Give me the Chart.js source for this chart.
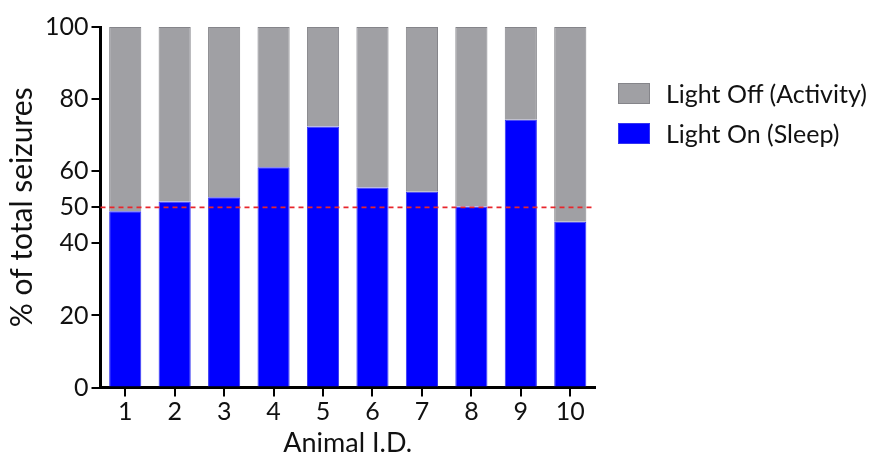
<!DOCTYPE html>
<html><head><meta charset="utf-8">
<script src="https://cdn.jsdelivr.net/npm/chart.js@4"></script>
<style>
html,body{margin:0;padding:0;background:#fff;}
#wrap{position:relative;width:872px;height:459px;}
#legend{position:absolute;left:618px;top:73px;font-family:Lato,sans-serif;font-size:25px;color:#111;}
.item{display:flex;align-items:center;height:40px;}
.sw{width:32px;height:21px;box-sizing:border-box;margin-right:16px;border:1px solid;}
</style></head><body>
<div id="wrap"><canvas id="c" width="872" height="459"></canvas><div id="legend"></div></div>
<script>
const categories = ['1','2','3','4','5','6','7','8','9','10'];
const lightOnSleep = [48.9, 51.6, 52.8, 61.1, 72.4, 55.5, 54.3, 50.2, 74.3, 46.0];
const lightOffActivity = [51.1, 48.4, 47.2, 38.9, 27.6, 44.5, 45.7, 49.8, 25.7, 54.0];
const yTicks = [0, 20, 40, 50, 60, 80, 100];
const refLine = 50;
const seriesLabels = ['Light On (Sleep)', 'Light Off (Activity)'];

const FONT = 'Lato, sans-serif';
const refPlugin = {
  id: 'refLine',
  afterDatasetsDraw(chart) {
    const {ctx, chartArea, scales} = chart;
    const y = scales.y.getPixelForValue(refLine);
    ctx.save();
    ctx.strokeStyle = '#e8262c';
    ctx.lineWidth = 1.8;
    ctx.setLineDash([5, 4]);
    ctx.beginPath();
    ctx.moveTo(chartArea.left, y);
    ctx.lineTo(chartArea.right, y);
    ctx.stroke();
    ctx.restore();
  }
};

const chart = new Chart(document.getElementById('c'), {
  type: 'bar',
  data: {
    labels: categories,
    datasets: [
      {label: seriesLabels[0], data: lightOnSleep, backgroundColor: '#0000ff', borderColor: '#3535f0', borderWidth: 1},
      {label: seriesLabels[1], data: lightOffActivity, backgroundColor: '#a0a0a4', borderColor: '#85858a', borderWidth: 1}
    ]
  },
  options: {
    responsive: false,
    devicePixelRatio: 1,
    animation: false,
    layout: {padding: {left: 4, right: 277, top: 27, bottom: 0}},
    datasets: {bar: {categoryPercentage: 1.0, barPercentage: 0.65}},
    plugins: {legend: {display: false}, tooltip: {enabled: false}},
    scales: {
      x: {
        stacked: true,
        grid: {display: true, drawOnChartArea: false, offset: false, tickLength: 9, color: '#000', lineWidth: 2},
        border: {color: '#000', width: 3},
        ticks: {font: {family: FONT, size: 25}, color: '#111', padding: 0},
        title: {display: true, text: 'Animal I.D.', font: {family: FONT, size: 27}, color: '#111', padding: {top: 0, bottom: 0}}
      },
      y: {
        stacked: true,
        min: 0, max: 100,
        afterBuildTicks: s => { s.ticks = yTicks.map(v => ({value: v})); },
        grid: {display: true, drawOnChartArea: false, tickLength: 9, color: '#000', lineWidth: 2},
        border: {color: '#000', width: 3},
        ticks: {font: {family: FONT, size: 25}, color: '#111', padding: 3},
        title: {display: true, text: '% of total seizures', font: {family: FONT, size: 30}, color: '#111', padding: {top: 0, bottom: 2}}
      }
    }
  },
  plugins: [refPlugin]
});

const leg = document.getElementById('legend');
[1, 0].forEach(i => {
  const ds = chart.data.datasets[i];
  const it = document.createElement('div'); it.className = 'item';
  const sw = document.createElement('div'); sw.className = 'sw';
  sw.style.background = ds.backgroundColor; sw.style.borderColor = ds.borderColor;
  const t = document.createElement('span'); t.textContent = ds.label;
  it.appendChild(sw); it.appendChild(t); leg.appendChild(it);
});
</script>
</body></html>
